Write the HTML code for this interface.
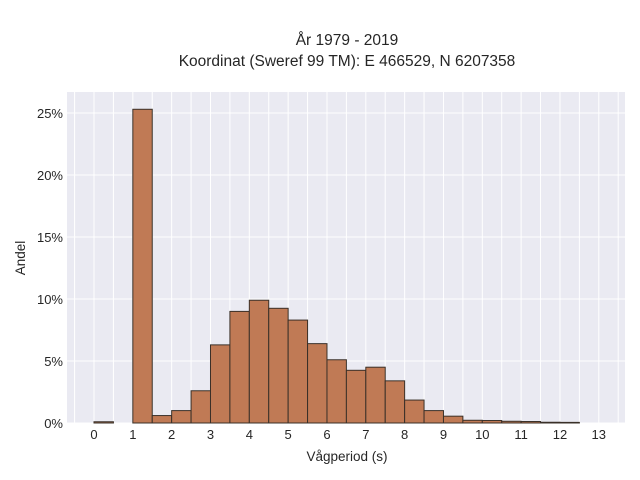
<!DOCTYPE html>
<html><head><meta charset="utf-8"><style>
html,body{margin:0;padding:0;background:#fff;}
svg{display:block;font-family:"Liberation Sans",sans-serif;}
</style></head><body>
<svg id="chart" width="640" height="480" xmlns="http://www.w3.org/2000/svg">
<text x="347" y="45" text-anchor="middle" font-size="15.5" fill="#262626">År 1979 - 2019</text>
<text x="347" y="66" text-anchor="middle" font-size="15.5" fill="#262626">Koordinat (Sweref 99 TM): E 466529, N 6207358</text>
<rect x="67" y="92" width="558" height="331" fill="#eaeaf2"/>
<g id="grid"></g>
<g id="bars"></g>
<g id="xticks"></g>
<g id="yticks"></g>
<text x="347" y="461" text-anchor="middle" font-size="13.5" fill="#262626">Vågperiod (s)</text>
<text transform="translate(25,258) rotate(-90)" text-anchor="middle" font-size="13.5" fill="#262626">Andel</text>
</svg>
<script>
const binStarts=[0,1,1.5,2,2.5,3,3.5,4,4.5,5,5.5,6,6.5,7,7.5,8,8.5,9,9.5,10,10.5,11,11.5,12];
const shares=[0.1,25.3,0.6,1.0,2.6,6.3,9.0,9.9,9.25,8.3,6.4,5.1,4.25,4.5,3.4,1.85,1.0,0.55,0.22,0.2,0.14,0.12,0.06,0.05];
const binWidth=0.5;
const xTicks=[0,1,2,3,4,5,6,7,8,9,10,11,12,13];
const yTicks=[0,5,10,15,20,25];
const NS="http://www.w3.org/2000/svg";
function xs(v){return 94+38.83*v;}
function ys(v){return 423-12.4*v;}
function mk(t,a,p){const e=document.createElementNS(NS,t);for(const k in a)e.setAttribute(k,a[k]);p.appendChild(e);return e;}
const grid=document.getElementById('grid'),bars=document.getElementById('bars'),xt=document.getElementById('xticks'),yt=document.getElementById('yticks');
for(let v=-0.5;v<=13.5;v+=0.5){
  const l=mk('line',{x1:xs(v),x2:xs(v),y1:92,y2:423,stroke:'#fff','stroke-width':1},grid);
  
  
}
yTicks.forEach(t=>{
  const l=mk('line',{x1:67,x2:625,y1:ys(t),y2:ys(t),stroke:'#fff','stroke-width':1},grid);
  
  
  const tx=mk('text',{x:63,y:ys(t)+5,'text-anchor':'end','font-size':13,fill:'#262626'},yt);
  tx.textContent=t+'%';
  
  
});
binStarts.forEach((s,i)=>{
  const r=mk('rect',{x:xs(s),y:ys(shares[i]),width:xs(s+binWidth)-xs(s),height:ys(0)-ys(shares[i]),fill:'#c07a55',stroke:'#3a3028','stroke-width':1},bars);
  
  
});
xTicks.forEach(t=>{
  const tx=mk('text',{x:xs(t),y:439,'text-anchor':'middle','font-size':13,fill:'#262626'},xt);
  tx.textContent=t;
  
  
});
</script>
</body></html>
